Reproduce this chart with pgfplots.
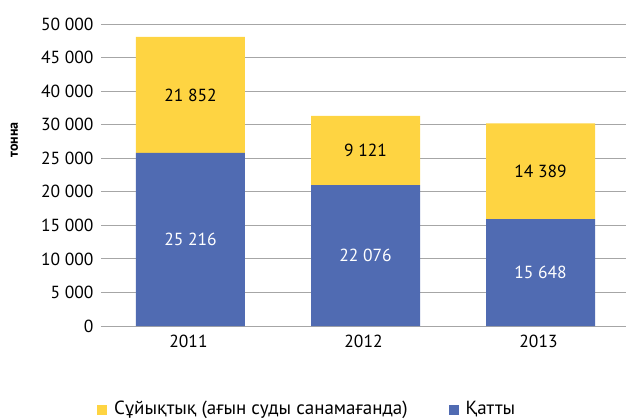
\documentclass[border=0pt]{standalone}
\usepackage{pgfplots}
\pgfplotsset{compat=1.18}
\usepackage{fontspec}
\setmainfont{PT Sans}
\definecolor{cyel}{RGB}{254,212,66}
\definecolor{cblue}{RGB}{80,107,178}
\definecolor{cgrid}{RGB}{166,166,166}
\newcommand{\mainsize}{\fontsize{17.5bp}{21bp}\selectfont}
\newcommand{\legsize}{\fontsize{19bp}{22bp}\selectfont}
\begin{document}
\begin{tikzpicture}
\path[use as bounding box] (-101bp,-93bp) rectangle (534bp,326bp);
\begin{axis}[
  scale only axis, width=525bp, height=302bp,
  ybar stacked, bar width=109bp, bar shift=2bp,
  xmin=-0.5, xmax=2.5, ymin=0, ymax=45,
  xtick={0,1,2}, xticklabels={2011,2012,2013},
  x tick style={draw=none},
  extra x ticks={-0.5,0.5,1.5,2.5}, extra x tick labels={},
  extra x tick style={major tick length=9bp, tick align=outside, tick style={draw=cgrid, line width=1pt}, grid=none},
  ytick={0,5,10,15,20,25,30,35,40,45},
  yticklabels={0,5 000,10 000,15 000,20 000,25 000,30 000,40 000,45 000,50 000},
  ymajorgrids, major grid style={cgrid, line width=1pt},
  y tick style={draw=none},
  axis x line*=bottom, axis y line*=left,
  y axis line style={draw=none},
  x axis line style={draw=cgrid, line width=1pt},
  /pgf/number format/assume math mode=true,
  tick label style={font=\mainsize},
  xticklabel style={yshift=-6bp},
  yticklabel style={xshift=-4bp},
  ylabel={тонна},
  ylabel style={font=\bfseries\fontsize{14bp}{16bp}\selectfont, at={(axis description cs:0,0.616)}, anchor=center, yshift=86.5bp},
  legend columns=2, reverse legend, legend cell align=left,
  legend image code/.code={\fill[#1] (0bp,-6.5bp) rectangle (10bp,3.5bp);},
  legend style={at={(axis description cs:0,0)}, anchor=north west, xshift=-4bp, yshift=-73bp, draw=none, fill=none, inner sep=0pt, font=\legsize,
    /tikz/every odd column/.append style={column sep=5bp},
    /tikz/every even column/.append style={column sep=39bp}},
  nodes near coords, point meta=explicit symbolic,
  every node near coord/.append style={font=\mainsize, anchor=center},
]
% bar heights in thousands of tonnes as drawn (gridlines every 5 000)
\addplot[fill=cblue, draw=none, every node near coord/.append style={text=white}] table[col sep=comma, x=x, y=y, meta=label] {
x,y,label
0,25.78,25 216
1,21.00,22 076
2,15.925,15 648
};
\addlegendentry{Қатты}
\addplot[fill=cyel, draw=none, every node near coord/.append style={text=black}] table[col sep=comma, x=x, y=y, meta=label] {
x,y,label
0,17.313,21 852
1,10.299,9 121
2,14.284,14 389
};
\addlegendentry{Сұйықтық (ағын суды санамағанда)}
\end{axis}
\end{tikzpicture}
\end{document}
